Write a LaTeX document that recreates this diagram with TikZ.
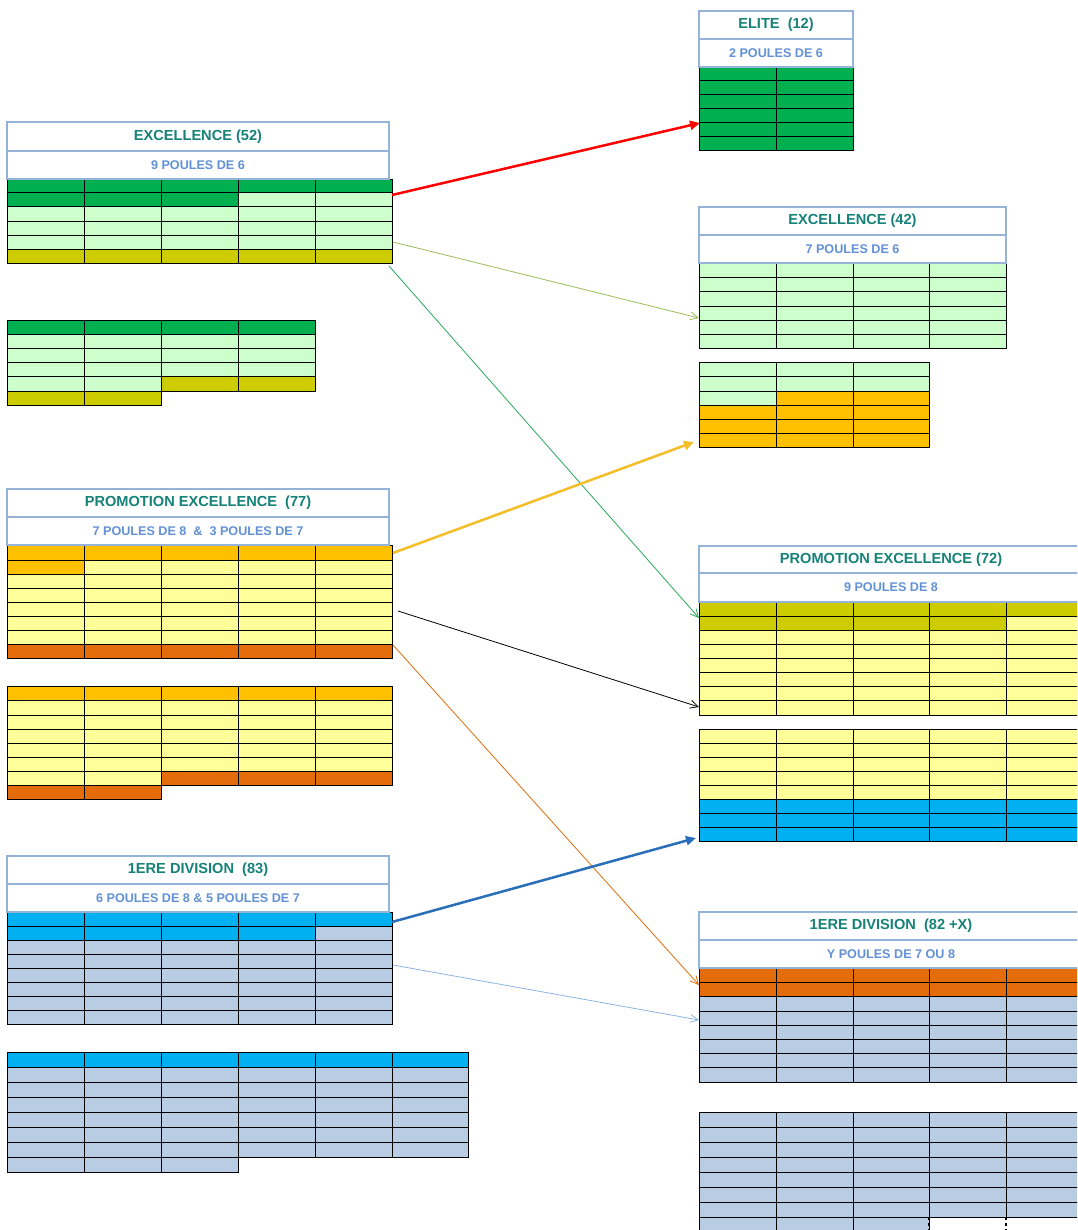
\documentclass[tikz,border=0pt]{standalone}
\usepackage{fontspec}
\setmainfont{Liberation Sans}
\usetikzlibrary{arrows.meta}
\definecolor{cdg}{RGB}{0,176,80}
\definecolor{clg}{RGB}{204,255,204}
\definecolor{col}{RGB}{204,204,0}
\definecolor{cog}{RGB}{255,192,0}
\definecolor{cyl}{RGB}{255,255,153}
\definecolor{cdo}{RGB}{228,108,10}
\definecolor{cbl}{RGB}{0,176,240}
\definecolor{cgb}{RGB}{184,204,228}
\definecolor{tealt}{RGB}{22,130,120}
\definecolor{subt}{RGB}{98,145,214}
\definecolor{hb}{RGB}{149,179,215}
\definecolor{aol}{RGB}{155,187,89}
\definecolor{agr}{RGB}{40,170,90}
\definecolor{agold}{RGB}{244,190,40}
\definecolor{aor}{RGB}{228,108,10}
\definecolor{abl}{RGB}{40,110,185}
\definecolor{albl}{RGB}{141,180,226}
\def\LX{{7,84,161,238,315,392,468}}
\def\RX{{699,776,853,929,1006,1083}}
\newcommand\trow[4]{%
  \foreach \cc [count=\i from 0] in {#4} {%
    \pgfmathsetmacro\xa{#1[\i]}%
    \pgfmathsetmacro\xb{#1[\i+1]}%
    \draw[cell,fill=\cc] (\xa,#2) rectangle (\xb,#3);
  }}
\tikzset{
  cell/.style={draw=black, line width=1pt},
  hdr/.style={draw=hb, line width=1.5pt, fill=white, inner sep=0pt, outer sep=0pt,
    anchor=north west, font=\bfseries\fontsize{14.6}{16}\selectfont, text=tealt},
  hsub/.style={hdr, font=\bfseries\fontsize{12.6}{14}\selectfont, text=subt},
  thinarrow/.style={line width=0.8pt, -{Straight Barb[length=8pt,width=8pt]}},
  thickarrow/.style={line width=2.5pt, -{Triangle[length=10pt,width=9pt]}},
}
\begin{document}
\begin{tikzpicture}[x=1pt,y=-1pt]
\useasboundingbox (0,0) rectangle (1077,1230);
\fill[white] (0,0) rectangle (1077,1230);
\clip (0,0) rectangle (1077,1230);

% ---- Left EXCELLENCE (52)
\trow\LX{180}{193}{cdg,cdg,cdg,cdg,cdg}
\trow\LX{193}{207}{cdg,cdg,cdg,clg,clg}
\trow\LX{207}{222}{clg,clg,clg,clg,clg}
\trow\LX{222}{236}{clg,clg,clg,clg,clg}
\trow\LX{236}{250}{clg,clg,clg,clg,clg}
\trow\LX{250}{264}{col,col,col,col,col}
% ---- Left small table
\trow\LX{320}{334}{cdg,cdg,cdg,cdg}
\trow\LX{334}{348}{clg,clg,clg,clg}
\trow\LX{348}{362}{clg,clg,clg,clg}
\trow\LX{362}{376}{clg,clg,clg,clg}
\trow\LX{376}{391}{clg,clg,col,col}
\trow\LX{391}{405}{col,col}
% ---- Elite
\trow\RX{67}{81}{cdg,cdg}
\trow\RX{81}{95}{cdg,cdg}
\trow\RX{95}{109}{cdg,cdg}
\trow\RX{109}{123}{cdg,cdg}
\trow\RX{123}{137}{cdg,cdg}
\trow\RX{137}{151}{cdg,cdg}
% ---- Right EXCELLENCE (42)
\trow\RX{263}{278}{clg,clg,clg,clg}
\trow\RX{278}{292}{clg,clg,clg,clg}
\trow\RX{292}{306}{clg,clg,clg,clg}
\trow\RX{306}{320}{clg,clg,clg,clg}
\trow\RX{320}{334}{clg,clg,clg,clg}
\trow\RX{334}{348}{clg,clg,clg,clg}
% ---- Right small table
\trow\RX{362}{376}{clg,clg,clg}
\trow\RX{376}{391}{clg,clg,clg}
\trow\RX{391}{405}{clg,cog,cog}
\trow\RX{405}{419}{cog,cog,cog}
\trow\RX{419}{433}{cog,cog,cog}
\trow\RX{433}{447}{cog,cog,cog}
% ---- Left PROMOTION EXCELLENCE (77)
\trow\LX{545}{560}{cog,cog,cog,cog,cog}
\trow\LX{560}{574}{cog,cyl,cyl,cyl,cyl}
\trow\LX{574}{588}{cyl,cyl,cyl,cyl,cyl}
\trow\LX{588}{602}{cyl,cyl,cyl,cyl,cyl}
\trow\LX{602}{616}{cyl,cyl,cyl,cyl,cyl}
\trow\LX{616}{630}{cyl,cyl,cyl,cyl,cyl}
\trow\LX{630}{644}{cyl,cyl,cyl,cyl,cyl}
\trow\LX{644}{658}{cdo,cdo,cdo,cdo,cdo}
% ---- Left PE second table
\trow\LX{686}{700}{cog,cog,cog,cog,cog}
\trow\LX{700}{715}{cyl,cyl,cyl,cyl,cyl}
\trow\LX{715}{729}{cyl,cyl,cyl,cyl,cyl}
\trow\LX{729}{743}{cyl,cyl,cyl,cyl,cyl}
\trow\LX{743}{757}{cyl,cyl,cyl,cyl,cyl}
\trow\LX{757}{771}{cyl,cyl,cyl,cyl,cyl}
\trow\LX{771}{785}{cyl,cyl,cdo,cdo,cdo}
\trow\LX{785}{799}{cdo,cdo}
% ---- Right PROMOTION EXCELLENCE (72)
\trow\RX{602}{616}{col,col,col,col,col}
\trow\RX{616}{630}{col,col,col,col,cyl}
\trow\RX{630}{644}{cyl,cyl,cyl,cyl,cyl}
\trow\RX{644}{658}{cyl,cyl,cyl,cyl,cyl}
\trow\RX{658}{672}{cyl,cyl,cyl,cyl,cyl}
\trow\RX{672}{686}{cyl,cyl,cyl,cyl,cyl}
\trow\RX{686}{700}{cyl,cyl,cyl,cyl,cyl}
\trow\RX{700}{715}{cyl,cyl,cyl,cyl,cyl}
% ---- Right PE second table
\trow\RX{729}{743}{cyl,cyl,cyl,cyl,cyl}
\trow\RX{743}{757}{cyl,cyl,cyl,cyl,cyl}
\trow\RX{757}{771}{cyl,cyl,cyl,cyl,cyl}
\trow\RX{771}{785}{cyl,cyl,cyl,cyl,cyl}
\trow\RX{785}{799}{cyl,cyl,cyl,cyl,cyl}
\trow\RX{799}{813}{cbl,cbl,cbl,cbl,cbl}
\trow\RX{813}{827}{cbl,cbl,cbl,cbl,cbl}
\trow\RX{827}{841}{cbl,cbl,cbl,cbl,cbl}
% ---- Left 1ERE DIVISION (83)
\trow\LX{912}{926}{cbl,cbl,cbl,cbl,cbl}
\trow\LX{926}{940}{cbl,cbl,cbl,cbl,cgb}
\trow\LX{940}{954}{cgb,cgb,cgb,cgb,cgb}
\trow\LX{954}{968}{cgb,cgb,cgb,cgb,cgb}
\trow\LX{968}{982}{cgb,cgb,cgb,cgb,cgb}
\trow\LX{982}{996}{cgb,cgb,cgb,cgb,cgb}
\trow\LX{996}{1010}{cgb,cgb,cgb,cgb,cgb}
\trow\LX{1010}{1024}{cgb,cgb,cgb,cgb,cgb}
% ---- Left bottom table
\trow\LX{1052}{1067}{cbl,cbl,cbl,cbl,cbl,cbl}
\trow\LX{1067}{1082}{cgb,cgb,cgb,cgb,cgb,cgb}
\trow\LX{1082}{1097}{cgb,cgb,cgb,cgb,cgb,cgb}
\trow\LX{1097}{1112}{cgb,cgb,cgb,cgb,cgb,cgb}
\trow\LX{1112}{1127}{cgb,cgb,cgb,cgb,cgb,cgb}
\trow\LX{1127}{1142}{cgb,cgb,cgb,cgb,cgb,cgb}
\trow\LX{1142}{1157}{cgb,cgb,cgb,cgb,cgb,cgb}
\trow\LX{1157}{1172}{cgb,cgb,cgb}
% ---- Right 1ERE DIVISION (82 +X)
\trow\RX{968}{982}{cdo,cdo,cdo,cdo,cdo}
\trow\RX{982}{996}{cdo,cdo,cdo,cdo,cdo}
\trow\RX{996}{1011}{cgb,cgb,cgb,cgb,cgb}
\trow\RX{1011}{1025}{cgb,cgb,cgb,cgb,cgb}
\trow\RX{1025}{1039}{cgb,cgb,cgb,cgb,cgb}
\trow\RX{1039}{1053}{cgb,cgb,cgb,cgb,cgb}
\trow\RX{1053}{1067}{cgb,cgb,cgb,cgb,cgb}
\trow\RX{1067}{1082}{cgb,cgb,cgb,cgb,cgb}
% ---- Right bottom table
\trow\RX{1112}{1127}{cgb,cgb,cgb,cgb,cgb}
\trow\RX{1127}{1142}{cgb,cgb,cgb,cgb,cgb}
\trow\RX{1142}{1157}{cgb,cgb,cgb,cgb,cgb}
\trow\RX{1157}{1172}{cgb,cgb,cgb,cgb,cgb}
\trow\RX{1172}{1187}{cgb,cgb,cgb,cgb,cgb}
\trow\RX{1187}{1202}{cgb,cgb,cgb,cgb,cgb}
\trow\RX{1202}{1217}{cgb,cgb,cgb,cgb,cgb}
\trow\RX{1217}{1232}{cgb,cgb,cgb}
\draw[line width=1.5pt, dashed] (929,1217) -- (929,1232);
\draw[line width=1.5pt, dashed] (1006,1217) -- (1006,1232);

% ---- Headers
\node[hdr, minimum width=382pt, minimum height=29pt] (exL) at (7,122) {EXCELLENCE (52)};
\node[hsub, minimum width=382pt, minimum height=28pt] (exLs) at (7,151) {9 POULES DE 6};
\node[hdr, minimum width=154pt, minimum height=28pt] (el) at (699,11) {ELITE\ \ (12)};
\node[hsub, minimum width=154pt, minimum height=28pt] (els) at (699,39) {2 POULES DE 6};
\node[hdr, minimum width=307pt, minimum height=28pt] (exR) at (699,207) {EXCELLENCE (42)};
\node[hsub, minimum width=307pt, minimum height=28pt] (exRs) at (699,235) {7 POULES DE 6};
\node[hdr, minimum width=382pt, minimum height=28pt] (peL) at (7,489) {PROMOTION EXCELLENCE\ \ (77)};
\node[hsub, minimum width=382pt, minimum height=28pt] (peLs) at (7,517) {7 POULES DE 8\ \ \&\ \ 3 POULES DE 7};
\node[hdr, minimum width=384pt, minimum height=27pt] (peR) at (699,546) {PROMOTION EXCELLENCE (72)};
\node[hsub, minimum width=384pt, minimum height=29pt] (peRs) at (699,573) {9 POULES DE 8};
\node[hdr, minimum width=382pt, minimum height=28pt] (dL) at (7,856) {1ERE DIVISION\ \ (83)};
\node[hsub, minimum width=382pt, minimum height=28pt] (dLs) at (7,884) {6 POULES DE 8 \& 5 POULES DE 7};
\node[hdr, minimum width=384pt, minimum height=28pt] (dR) at (699,912) {1ERE DIVISION\ \ (82 +X)};
\node[hsub, minimum width=384pt, minimum height=28pt] (dRs) at (699,940) {Y POULES DE 7 OU 8};

% ---- Arrows
\coordinate (a1s) at (392,195);  \coordinate (a1e) at (700,123);
\coordinate (a2s) at (393,242);  \coordinate (a2e) at (699,318);
\coordinate (a3s) at (389,266);  \coordinate (a3e) at (699,618);
\coordinate (a4s) at (393,553);  \coordinate (a4e) at (694,442);
\coordinate (a5s) at (398,611);  \coordinate (a5e) at (699,707);
\coordinate (a6s) at (393,645);  \coordinate (a6e) at (699,985);
\coordinate (a7s) at (392,922);  \coordinate (a7e) at (696,838);
\coordinate (a8s) at (393,965);  \coordinate (a8e) at (699,1020);
\draw[thickarrow, draw=red, fill=red] (a1s) -- (a1e);
\draw[thinarrow, aol] (a2s) -- (a2e);
\draw[thinarrow, agr] (a3s) -- (a3e);
\draw[thickarrow, draw=agold, fill=agold] (a4s) -- (a4e);
\draw[thinarrow, black] (a5s) -- (a5e);
\draw[thinarrow, aor] (a6s) -- (a6e);
\draw[thickarrow, draw=abl, fill=abl] (a7s) -- (a7e);
\draw[thinarrow, albl] (a8s) -- (a8e);
\end{tikzpicture}
\end{document}
